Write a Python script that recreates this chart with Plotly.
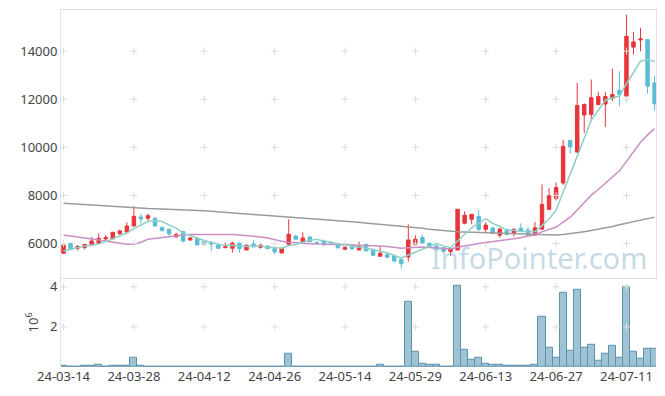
import plotly.graph_objects as go
from plotly.subplots import make_subplots
import pandas as pd

dates = ["24-03-14","24-03-15","24-03-18","24-03-19","24-03-20","24-03-21","24-03-22","24-03-25","24-03-26","24-03-27","24-03-28",
         "24-03-29","24-04-01","24-04-02","24-04-03","24-04-04","24-04-05","24-04-08","24-04-09","24-04-11","24-04-12",
         "24-04-15","24-04-16","24-04-17","24-04-18","24-04-19","24-04-22","24-04-23","24-04-24","24-04-25","24-04-26",
         "24-04-29","24-04-30","24-05-02","24-05-03","24-05-07","24-05-08","24-05-09","24-05-10","24-05-13","24-05-14",
         "24-05-16","24-05-17","24-05-20","24-05-21","24-05-22","24-05-23","24-05-24","24-05-27","24-05-28","24-05-29",
         "24-05-30","24-05-31","24-06-03","24-06-04","24-06-05","24-06-07","24-06-10","24-06-11","24-06-12","24-06-13",
         "24-06-14","24-06-17","24-06-18","24-06-19","24-06-20","24-06-21","24-06-24","24-06-25","24-06-26","24-06-27",
         "24-06-28","24-07-01","24-07-02","24-07-03","24-07-04","24-07-05","24-07-08","24-07-09","24-07-10","24-07-11",
         "24-07-12","24-07-15","24-07-16","24-07-17"]

open_ = [5600,6010,5805,5835,5970,6015,6195,6195,6415,6485,6730,7105,7050,7050,6680,6595,6275,6495,6150,6205,
         6095,6015,5945,5840,5805,6015,5735,5985,5845,5900,5790,5610,5970,6315,6070,6275,6045,6110,6040,6000,
         5765,5945,5735,5970,5765,5475,5555,5485,5335,5445,5970,6250,6015,5900,5830,5670,5735,6845,7010,7130,
         6595,6650,6350,6585,6440,6640,6560,6350,6600,7425,7880,8520,10295,9805,11345,11370,11780,11800,12030,12365,
         12130,14165,14465,14480,12680]
high = [5970,6020,5945,6000,6275,6415,6360,6485,6580,6885,7550,7245,7245,7105,6680,6620,6455,6525,6275,6275,
        6125,6110,5970,6040,6080,6040,5970,6140,5999,5910,5900,5820,7010,6345,6470,6320,6110,6165,6070,6040,
        5985,5960,6080,5985,5780,5900,5570,5555,5380,6800,6345,6385,6040,5930,5850,5800,7425,7340,7220,7390,
        6890,6690,6650,6620,6650,6840,6690,6900,8460,8300,8540,10320,10295,12680,11830,12820,12310,12310,13270,13165,
        15515,14800,14965,14480,12960]
low = [5580,5750,5720,5765,5945,6000,6110,6180,6360,6440,6720,6830,6940,6720,6495,6275,6270,6040,6110,5930,
       5930,5695,5790,5790,5625,5625,5720,5845,5790,5780,5555,5600,5945,6165,6055,6055,5970,5900,5990,5805,
       5750,5760,5720,5680,5500,5460,5420,5210,4960,5250,5900,6010,5860,5690,5600,5490,5735,6800,6800,6510,
       6480,6390,6250,6340,6290,6490,6320,6320,6580,7400,7790,8440,9735,9780,10606,11090,11750,10850,11920,11710,
       11890,13860,13995,12225,11540]
close = [5930,5765,5875,5960,6110,6220,6250,6470,6525,6730,7135,7025,7160,6730,6550,6400,6375,6110,6235,5945,
         5970,5985,5805,5875,6015,5790,5930,5860,5930,5790,5655,5805,6385,6180,6235,6080,6000,5999,6020,5820,
         5845,5780,5875,5695,5515,5600,5430,5280,5170,6150,6180,6025,5875,5760,5680,5790,7425,7180,7215,6595,
         6770,6420,6600,6375,6590,6515,6350,6655,7630,7990,8330,10045,10020,11740,11780,12065,12110,12110,12195,12195,
         14615,14385,14505,12545,11810]
volume = [80000,30000,30000,80000,80000,120000,30000,80000,80000,80000,450000,80000,30000,30000,30000,30000,8000,30000,8000,8000,
          8000,30000,8000,8000,30000,30000,8000,8000,8000,8000,8000,30000,680000,30000,30000,30000,30000,8000,8000,30000,
          8000,30000,30000,30000,30000,100000,30000,30000,30000,3230000,783000,167000,117000,117000,30000,30000,4030000,883000,383000,483000,
          167000,117000,117000,67000,67000,67000,67000,117000,2530000,983000,483000,3680000,833000,3830000,983000,1130000,333000,683000,1080000,483000,
          3980000,783000,433000,933000,933000]

# moving-average values before a full window is available
ma5_head = [5695, 5760, 5833, 5900]
ma20_head = [6360, 6325, 6290, 6240, 6195, 6150, 6110, 6055, 6000, 5975, 5970, 6055, 6180, 6220, 6250, 6290, 6330, 6360, 6375]
ma120 = [7680,7660,7640,7620,7600,7580,7560,7540,7515,7495,7470,
         7462,7454,7446,7437,7428,7419,7410,7400,
         7380,7360,7340,7320,7300,7280,7255,7235,7215,7195,7170,7150,
         7130,7110,7090,7070,7050,7030,
         7005,6980,6955,6930,6905,6880,6860,6835,6810,6790,6765,6740,
         6705,6670,6635,6600,6565,6530,6500,
         6490,6480,6470,6460,6450,
         6435,6420,6405,6390,6380,6370,6365,
         6360,6358,6360,6380,6410,
         6450,6495,6540,6590,6650,6710,6780,6850,
         6910,6970,7040,7100]

ytick_main = [6000, 8000, 10000, 12000, 14000]
ytick_vol = [2, 4]
xtick_labels = dates[::10]

cs = pd.Series(close, dtype=float)
ma5 = cs.rolling(5).mean().tolist()
ma5[:len(ma5_head)] = ma5_head
ma20 = cs.rolling(20).mean().tolist()
ma20[:len(ma20_head)] = ma20_head

FONT = "Noto Sans"
TXT = "#444444"
GRID = "#dcdcdc"
BORDER = "#e3e3e3"

fig = make_subplots(rows=2, cols=1, shared_xaxes=True, vertical_spacing=0,
                    row_heights=[0.75, 0.25])

fig.add_trace(go.Scatter(x=dates, y=ma120, mode="lines", line=dict(color="#9b9b9b", width=1.5)), row=1, col=1)
fig.add_trace(go.Scatter(x=dates, y=ma20, mode="lines", line=dict(color="#c98ec6", width=1.5)), row=1, col=1)
fig.add_trace(go.Scatter(x=dates, y=ma5, mode="lines", line=dict(color="#8fd0c6", width=1.5)), row=1, col=1)

fig.add_trace(go.Candlestick(x=dates, open=open_, high=high, low=low, close=close,
                             increasing=dict(line=dict(color="#e8343b", width=1), fillcolor="#e8343b"),
                             decreasing=dict(line=dict(color="#5cbcd6", width=1), fillcolor="#5cbcd6"),
                             whiskerwidth=0),
              row=1, col=1)

fig.add_trace(go.Bar(x=dates, y=[v / 1e6 for v in volume],
                     marker=dict(color="rgba(125,175,198,0.75)", line=dict(color="#5e93ac", width=1))),
              row=2, col=1)

# grid crosses at tick intersections
gx, gy = [], []
for xv in xtick_labels:
    for yv in ytick_main:
        gx.append(xv); gy.append(yv)
fig.add_trace(go.Scatter(x=gx, y=gy, mode="markers", hoverinfo="skip",
                         marker=dict(symbol="cross-thin", size=5, line=dict(color=GRID, width=1))),
              row=1, col=1)
gx2, gy2 = [], []
for xv in xtick_labels:
    for yv in ytick_vol:
        gx2.append(xv); gy2.append(yv)
fig.add_trace(go.Scatter(x=gx2, y=gy2, mode="markers", hoverinfo="skip",
                         marker=dict(symbol="cross-thin", size=5, line=dict(color=GRID, width=1))),
              row=2, col=1)

# page body has an 8px default margin, so the figure is sized to fit the window
fig.update_layout(
    width=657, height=388,
    margin=dict(l=53, r=9, t=2, b=29),
    paper_bgcolor="white", plot_bgcolor="white",
    showlegend=False, bargap=0,
    font=dict(family=FONT, size=13, color=TXT),
    xaxis_rangeslider_visible=False,
    annotations=[dict(text="InfoPointer.com", xref="paper", yref="paper", x=0.988, y=0.247,
                      xanchor="right", yanchor="bottom", showarrow=False,
                      font=dict(family=FONT, size=29, color="rgba(160,192,212,0.6)"))],
)

xr = [-0.36, 84.2]
fig.update_xaxes(type="category", categoryorder="array", categoryarray=dates, range=xr,
                 showgrid=False, zeroline=False,
                 tickmode="array", tickvals=xtick_labels, ticktext=xtick_labels, ticks="", tickangle=0)
fig.update_xaxes(showticklabels=False, showline=True, mirror=True, linecolor=BORDER, linewidth=1, row=1, col=1)
fig.update_xaxes(showticklabels=True, showline=False, tickfont=dict(size=13, color=TXT), row=2, col=1)

fig.update_yaxes(range=[4580, 15710], tickvals=ytick_main, ticktext=[str(v) for v in ytick_main],
                 showgrid=False, zeroline=False,
                 showline=True, mirror=True, linecolor=BORDER, linewidth=1, ticks="",
                 tickfont=dict(size=13, color=TXT), row=1, col=1)
fig.update_yaxes(range=[0, 4.45], tickvals=ytick_vol, ticktext=[str(v) for v in ytick_vol],
                 showgrid=False, zeroline=False,
                 showline=True, linecolor=BORDER, linewidth=1, ticks="",
                 title=dict(text="10<sup>6</sup>", font=dict(size=13, color=TXT), standoff=8),
                 tickfont=dict(size=13, color=TXT), row=2, col=1)

fig.write_html("out.html")
